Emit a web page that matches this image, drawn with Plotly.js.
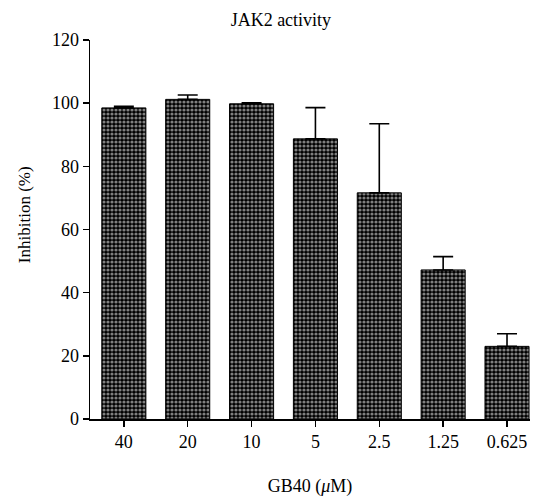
<!DOCTYPE html>
<html>
<head>
<meta charset="utf-8">
<script src="https://cdn.plot.ly/plotly-3.0.1.min.js"></script>
<style>html,body{margin:0;padding:0;background:#fff}#chart{width:534px;height:497px}</style>
</head>
<body>
<div id="chart"></div>
<script>
const categories = ["40", "20", "10", "5", "2.5", "1.25", "0.625"];
const inhibition = [98.5, 101.2, 99.8, 88.7, 71.6, 47.2, 23.0];
const errorUpper = [0.5, 1.4, 0.3, 9.9, 21.9, 4.2, 4.0];
const errorLower = [0, 0, 0, 0, 0, 0, 0];
const yTicks = [0, 20, 40, 60, 80, 100, 120];

const font = "Liberation Serif, Times New Roman, serif";

const trace = {
  type: "bar",
  x: categories,
  y: inhibition,
  marker: {
    color: "#000",
    line: {color: "#000", width: 1},
    pattern: {shape: ".", bgcolor: "#000", fgcolor: "#fff", size: 4, solidity: 0.5, fillmode: "overlay"}
  },
  error_y: {
    type: "data",
    symmetric: false,
    array: errorUpper,
    arrayminus: errorLower,
    color: "#000",
    thickness: 1.6,
    width: 10
  },
  hoverinfo: "none"
};

const layout = {
  width: 534,
  height: 497,
  margin: {l: 90, r: 4, t: 39.5, b: 77.7},
  paper_bgcolor: "#fff",
  plot_bgcolor: "#fff",
  showlegend: false,
  bargap: 0.31,
  font: {family: font, size: 18, color: "#000"},
  title: {
    text: "JAK2 activity",
    font: {family: font, size: 18, color: "#000"},
    xref: "container", x: 0.526, xanchor: "center",
    yref: "container", y: 0.961, yanchor: "middle"
  },
  xaxis: {
    type: "category",
    range: [-0.53, 6.36],
    showline: true, linecolor: "#000", linewidth: 1.5,
    ticks: "outside", ticklen: 6, tickwidth: 1.5, tickcolor: "#000",
    showgrid: false, zeroline: false,
    tickfont: {family: font, size: 18, color: "#000"},
    title: {text: "GB40 (<i>μ</i>M)", font: {family: font, size: 18, color: "#000"}, standoff: 28}
  },
  yaxis: {
    range: [0, 120],
    tickvals: yTicks,
    ticktext: yTicks.map(String),
    showline: true, linecolor: "#000", linewidth: 1.5,
    ticks: "outside", ticklen: 6, tickwidth: 1.5, tickcolor: "#000",
    showgrid: false, zeroline: false,
    tickfont: {family: font, size: 18, color: "#000"}
  },
  annotations: [{
    text: "Inhibition (%)",
    textangle: -90,
    showarrow: false,
    xref: "paper", x: (24 - 90) / 440, xanchor: "center",
    yref: "paper", y: (419.3 - 215) / 379.8, yanchor: "middle",
    font: {family: font, size: 17, color: "#000"}
  }]
};

Plotly.newPlot("chart", [trace], layout, {staticPlot: true, displayModeBar: false});
</script>
</body>
</html>
